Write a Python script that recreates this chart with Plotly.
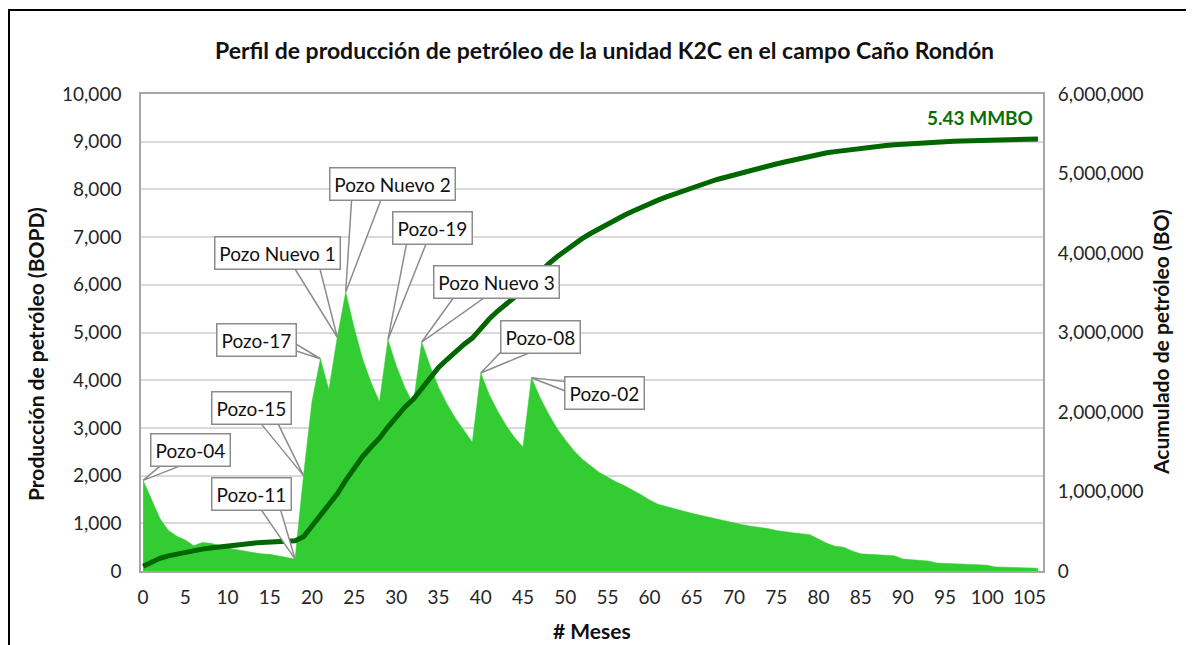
import plotly.graph_objects as go

# ---------------- data ----------------
months = list(range(0, 107))

production_bopd = [
    1900, 1500, 1100, 850, 730, 650, 530, 600, 580, 540,
    480, 450, 420, 380, 360, 350, 320, 290, 250, 2000,
    3550, 4450, 3800, 4900, 5850, 5100, 4450, 3950, 3550, 4850,
    4300, 3850, 3500, 4800, 4300, 3850, 3500, 3200, 2950, 2700,
    4150, 3700, 3350, 3050, 2800, 2600, 4050, 3650, 3300, 3000,
    2750, 2530, 2350, 2200, 2070, 1970, 1870, 1790, 1700, 1600,
    1490, 1400, 1350, 1300, 1250, 1210, 1170, 1130, 1080, 1040,
    1000, 970, 940, 920, 890, 850, 820, 800, 780, 760,
    670, 580, 520, 500, 420, 360, 350, 340, 330, 320,
    250, 240, 235, 210, 170, 165, 160, 150, 140, 130,
    120, 85, 80, 75, 70, 65, 60,
]

cumulative_bo = [
    60000, 110000, 160000, 190000, 215000, 235000, 255000, 275000, 290000, 305000,
    318000, 330000, 340000, 350000, 358000, 365000, 370000, 375000, 380000, 430000,
    560000, 700000, 820000, 970000, 1140000, 1300000, 1440000, 1560000, 1670000, 1810000,
    1940000, 2060000, 2160000, 2300000, 2440000, 2560000, 2660000, 2760000, 2850000, 2930000,
    3060000, 3170000, 3270000, 3360000, 3450000, 3530000, 3650000, 3760000, 3860000, 3950000,
    4030000, 4110000, 4180000, 4245000, 4305000, 4365000, 4420000, 4475000, 4525000, 4575000,
    4620000, 4665000, 4705000, 4745000, 4785000, 4820000, 4855000, 4890000, 4925000, 4955000,
    4985000, 5015000, 5045000, 5070000, 5095000, 5120000, 5145000, 5170000, 5195000, 5215000,
    5240000, 5260000, 5275000, 5290000, 5305000, 5318000, 5330000, 5342000, 5352000, 5362000,
    5370000, 5377000, 5384000, 5390000, 5396000, 5401000, 5405000, 5409000, 5413000, 5417000,
    5420000, 5423000, 5426000, 5429000, 5431000, 5433000, 5435000,
]

callout_labels = ["Pozo-04", "Pozo-11", "Pozo-15", "Pozo-17", "Pozo Nuevo 1",
                  "Pozo Nuevo 2", "Pozo-19", "Pozo Nuevo 3", "Pozo-08", "Pozo-02"]
callout_months = [0, 18, 19, 21, 23, 24, 29, 33, 40, 46]

x_tick_values = list(range(0, 106, 5))
total_label = "5.43 MMBO"

title_text = "Perfil de producción de petróleo de la unidad K2C en el campo Caño Rondón"
x_title = "# Meses"
y_title = "Producción de petróleo (BOPD)"
y2_title = "Acumulado de petróleo (BO)"

# ---------------- styling / layout helpers ----------------
PAGE_OFF = 8                      # default body margin of the html page
W, H = 1194 - PAGE_OFF, 645 - PAGE_OFF
ML, MT = 141 - PAGE_OFF, 94 - PAGE_OFF
PW, PH = 902, 477
MR, MB = W - ML - PW, H - MT - PH


def px_to_paper_x(px):
    return (px - PAGE_OFF - ML) / PW


def px_to_paper_y(py):
    return (MT + PH - (py - PAGE_OFF)) / PH


FONT = "Lato"
AREA_GREEN = "#33CC33"
LINE_GREEN = "#006600"
BOX_GRAY = "#8C8C8C"

# callout box offsets (pixels from the tip) and wedge base points (pixels, y up)
callout_style = [
    dict(shift=(47, 30), wedge=[(19, 16), (41, 16)], w=72),
    dict(shift=(-44, 65), wedge=[(-35, 51), (-15, 51)], w=72),
    dict(shift=(-52, 68), wedge=[(-45, 55), (-27, 55)], w=72),
    dict(shift=(-64, 19), wedge=[(-28, 17), (-28, 9)], w=72),
    dict(shift=(-60, 84), wedge=[(-44, 71), (-18, 71)], w=118),
    dict(shift=(47, 108), wedge=[(6, 94), (36, 94)], w=118),
    dict(shift=(45, 112), wedge=[(19, 98), (39, 98)], w=72),
    dict(shift=(75, 60), wedge=[(33, 46), (65, 46)], w=118),
    dict(shift=(60, 36), wedge=[(21, 22), (53, 22)], w=72),
    dict(shift=(73, -15), wedge=[(36, -4), (36, -14)], w=72),
]

fig = go.Figure()

fig.add_trace(go.Scatter(
    x=months, y=production_bopd, mode="lines", fill="tozeroy",
    line=dict(color=AREA_GREEN, width=0.5), fillcolor=AREA_GREEN,
    yaxis="y", hoverinfo="x+y", name="Producción",
))

fig.add_trace(go.Scatter(
    x=months, y=cumulative_bo, mode="lines",
    line=dict(color=LINE_GREEN, width=5), yaxis="y2", name="Acumulado",
))

shapes = []
annotations = []

for label, m, st in zip(callout_labels, callout_months, callout_style):
    xv = months[m]
    yv = production_bopd[m]
    (bx1, by1), (bx2, by2) = st["wedge"]
    shapes.append(dict(
        type="path", xref="x", yref="y", xsizemode="pixel", ysizemode="pixel",
        xanchor=xv, yanchor=yv,
        path=f"M 0 0 L {bx1} {by1} L {bx2} {by2} Z",
        fillcolor="white", line=dict(color=BOX_GRAY, width=1.5), layer="above",
    ))
    annotations.append(dict(
        x=xv, y=yv, xref="x", yref="y", text=label, showarrow=False,
        xshift=st["shift"][0], yshift=st["shift"][1],
        xanchor="center", yanchor="middle",
        width=st["w"], height=25, align="center",
        bgcolor="white", bordercolor=BOX_GRAY, borderwidth=1.5, borderpad=3,
        font=dict(family=FONT, size=19, color="#111111"),
    ))

# total label
annotations.append(dict(
    x=months[-1], y=cumulative_bo[-1], xref="x", yref="y2", text=f"<b>{total_label}</b>",
    showarrow=False, xanchor="right", yanchor="bottom", xshift=-3, yshift=8,
    font=dict(family=FONT, size=19, color="#0A6E0A"),
))

# titles
annotations.append(dict(
    x=px_to_paper_x(604), y=px_to_paper_y(50), xref="paper", yref="paper",
    text=f"<b>{title_text}</b>", showarrow=False, xanchor="center", yanchor="middle",
    font=dict(family=FONT, size=23, color="#111111"),
))
annotations.append(dict(
    x=px_to_paper_x(592), y=px_to_paper_y(630), xref="paper", yref="paper",
    text=f"<b>{x_title}</b>", showarrow=False, xanchor="center", yanchor="middle",
    font=dict(family=FONT, size=21, color="#111111"),
))
annotations.append(dict(
    x=px_to_paper_x(35), y=px_to_paper_y(354), xref="paper", yref="paper",
    text=f"<b>{y_title}</b>", showarrow=False, xanchor="center", yanchor="middle",
    textangle=-90, font=dict(family=FONT, size=21, color="#111111"),
))
annotations.append(dict(
    x=px_to_paper_x(1160), y=px_to_paper_y(342), xref="paper", yref="paper",
    text=f"<b>{y2_title}</b>", showarrow=False, xanchor="center", yanchor="middle",
    textangle=-90, font=dict(family=FONT, size=21, color="#111111"),
))

# outer black frame
shapes.append(dict(
    type="rect", xref="paper", yref="paper",
    x0=px_to_paper_x(9), x1=px_to_paper_x(1220),
    y0=px_to_paper_y(720), y1=px_to_paper_y(10),
    line=dict(color="black", width=2), fillcolor="rgba(0,0,0,0)", layer="below",
))

tick_font = dict(family=FONT, size=19, color="#262626")

fig.update_layout(
    width=W, height=H,
    margin=dict(l=ML, r=MR, t=MT, b=MB, pad=0),
    paper_bgcolor="white", plot_bgcolor="white",
    showlegend=False,
    xaxis=dict(
        range=[-0.25, 106.6], tickmode="array", tickvals=x_tick_values,
        ticktext=[str(v) for v in x_tick_values],
        showgrid=False, zeroline=False,
        showline=True, linecolor="#A6A6A6", linewidth=1.5, mirror=True,
        ticks="outside", ticklen=8, tickcolor="rgba(0,0,0,0)",
        tickfont=tick_font,
    ),
    yaxis=dict(
        range=[0, 10000], dtick=1000, tickformat=",",
        showgrid=True, gridcolor="#D9D9D9", gridwidth=1.5, zeroline=False,
        showline=True, linecolor="#A6A6A6", linewidth=1.5, mirror=True,
        ticks="outside", ticklen=14, tickcolor="rgba(0,0,0,0)",
        tickfont=tick_font,
    ),
    yaxis2=dict(
        range=[0, 6000000], dtick=1000000, tickformat=",",
        overlaying="y", side="right", showgrid=False, zeroline=False,
        ticks="outside", ticklen=10, tickcolor="rgba(0,0,0,0)",
        tickfont=tick_font,
    ),
    shapes=shapes,
    annotations=annotations,
)

fig.write_html("out.html")
